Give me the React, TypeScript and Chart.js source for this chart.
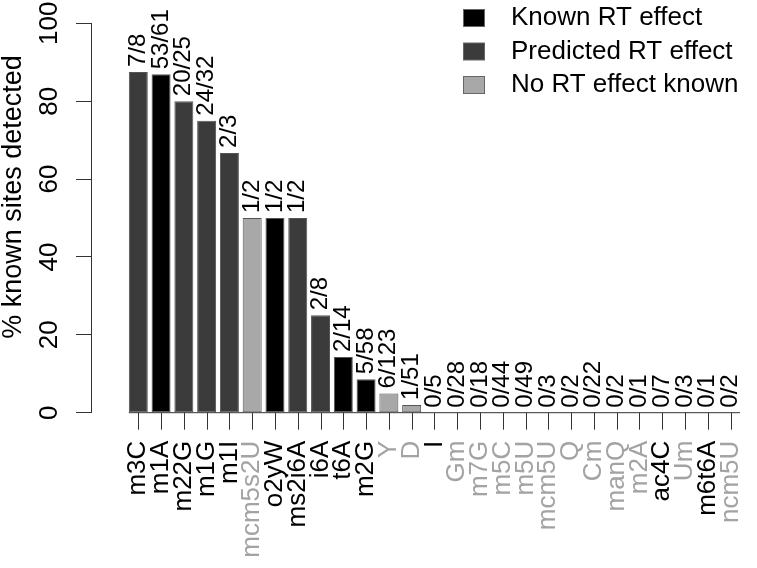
import React, { useEffect, useRef } from 'react';
import { Chart, registerables } from 'chart.js';

Chart.register(...registerables);

// ---------- data ----------
const categories = [
  'm3C', 'm1A', 'm22G', 'm1G', 'm1I', 'mcm5s2U', 'o2yW', 'ms2i6A', 'i6A', 't6A',
  'm2G', 'Y', 'D', 'I', 'Gm', 'm7G', 'm5C', 'm5U', 'mcm5U', 'Q',
  'Cm', 'manQ', 'm2A', 'ac4C', 'Um', 'm6t6A', 'ncm5U',
];
const percentDetected = [
  87.5, 86.9, 80, 75, 66.7, 50, 50, 50, 25, 14.3,
  8.6, 4.9, 2.0, 0, 0, 0, 0, 0, 0, 0,
  0, 0, 0, 0, 0, 0, 0,
];
const siteCounts = [
  '7/8', '53/61', '20/25', '24/32', '2/3', '1/2', '1/2', '1/2', '2/8', '2/14',
  '5/58', '6/123', '1/51', '0/5', '0/28', '0/18', '0/44', '0/49', '0/3', '0/2',
  '0/22', '0/2', '0/1', '0/7', '0/3', '0/1', '0/2',
];
// K = known RT effect, P = predicted RT effect, N = no RT effect known
const effectType = [
  'P', 'K', 'P', 'P', 'P', 'N', 'K', 'P', 'P', 'K',
  'K', 'N', 'N', 'K', 'N', 'N', 'N', 'N', 'N', 'N',
  'N', 'N', 'N', 'K', 'N', 'K', 'N',
];
const legendKeys = ['K', 'P', 'N'];
const legendLabels = ['Known RT effect', 'Predicted RT effect', 'No RT effect known'];
const yTicks = [0, 20, 40, 60, 80, 100];
const yTitle = '% known sites detected';

// ---------- styles ----------
const FONT = '"Liberation Sans", Arial, Helvetica, sans-serif';
const fillColor: Record<string, string> = { K: '#000000', P: '#3b3b3b', N: '#a8a8a8' };
const labelColor: Record<string, string> = { K: '#000000', P: '#000000', N: '#a3a3a3' };
const AXIS = '#333333';

const overlayPlugin = {
  id: 'overlay',
  afterDraw(chart: any) {
    const ctx = chart.ctx as CanvasRenderingContext2D;
    const ys = chart.scales.y;
    const meta = chart.getDatasetMeta(0);
    const els = meta.data;
    ctx.save();

    // base line under the bars
    const y0 = ys.getPixelForValue(0);
    const first = els[0];
    const last = els[els.length - 1];
    ctx.strokeStyle = AXIS;
    ctx.lineWidth = 1;
    ctx.beginPath();
    ctx.moveTo(first.x - first.width / 2, y0);
    ctx.lineTo(last.x + last.width / 2, y0);
    ctx.stroke();

    // x tick marks
    ctx.beginPath();
    for (let i = 0; i < els.length; i++) {
      const x = Math.round(els[i].x) + 0.5;
      ctx.moveTo(x, y0);
      ctx.lineTo(x, y0 + 17);
    }
    ctx.stroke();

    // fraction labels above bars
    ctx.fillStyle = '#000';
    ctx.font = `24px ${FONT}`;
    ctx.textAlign = 'left';
    ctx.textBaseline = 'middle';
    els.forEach((el: any, i: number) => {
      ctx.save();
      ctx.translate(el.x, el.y - 5);
      ctx.rotate(-Math.PI / 2);
      ctx.fillText(siteCounts[i], 0, 0);
      ctx.restore();
    });

    // y tick labels (parallel to axis)
    ctx.font = `26px ${FONT}`;
    ctx.textAlign = 'center';
    yTicks.forEach((v) => {
      ctx.save();
      ctx.translate(50, ys.getPixelForValue(v));
      ctx.rotate(-Math.PI / 2);
      ctx.fillText(String(v), 0, 0);
      ctx.restore();
    });

    // y title
    ctx.font = `27px ${FONT}`;
    ctx.save();
    ctx.translate(14, 197);
    ctx.rotate(-Math.PI / 2);
    ctx.fillText(yTitle, 0, 0);
    ctx.restore();

    // legend
    ctx.font = `26px ${FONT}`;
    ctx.textAlign = 'left';
    ctx.lineWidth = 1;
    legendKeys.forEach((k, i) => {
      const cy = 18 + i * 33.5;
      ctx.fillStyle = fillColor[k];
      ctx.fillRect(463.5, cy - 8.5, 21, 17);
      ctx.strokeStyle = '#666';
      ctx.strokeRect(463.5, cy - 8.5, 21, 17);
      ctx.fillStyle = '#000';
      ctx.fillText(legendLabels[i], 511, cy);
    });

    ctx.restore();
  },
};

export default function App() {
  const canvasRef = useRef<HTMLCanvasElement | null>(null);

  useEffect(() => {
    const canvas = canvasRef.current;
    if (!canvas) return;
    const chart = new Chart(canvas, {
      type: 'bar',
      data: {
        datasets: [
          {
            data: percentDetected.map((v, i) => ({ x: i, y: v })),
            backgroundColor: effectType.map((t) => fillColor[t]),
            borderColor: '#555555',
            borderWidth: 1,
            borderSkipped: false,
            barPercentage: 0.833,
            categoryPercentage: 1,
          } as any,
        ],
      },
      options: {
        responsive: false,
        animation: false,
        devicePixelRatio: 1,
        layout: { padding: { left: 0, right: 0, top: 23.3, bottom: 0 } },
        plugins: {
          legend: { display: false },
          tooltip: { enabled: false },
        },
        scales: {
          x: {
            type: 'linear',
            min: -1.535,
            max: 26.62,
            afterBuildTicks: (scale: any) => {
              scale.ticks = categories.map((_, i) => ({ value: i }));
            },
            afterFit: (scale: any) => {
              scale.height = 155.3;
              scale.paddingLeft = 0;
              scale.paddingRight = 0;
            },
            border: { display: false },
            grid: {
              display: true,
              drawOnChartArea: false,
              drawTicks: true,
              tickLength: 17,
              tickColor: 'rgba(0,0,0,0)',
              color: 'rgba(0,0,0,0)',
            },
            ticks: {
              autoSkip: false,
              minRotation: 90,
              maxRotation: 90,
              padding: 11,
              font: { family: FONT, size: 26 },
              color: (c: any) => labelColor[effectType[c.index]] ?? '#000',
              callback: (value: any) => categories[Math.round(Number(value))] ?? '',
            },
          },
          y: {
            min: 0,
            max: 100,
            afterFit: (scale: any) => {
              scale.width = 91;
            },
            border: { display: true, color: AXIS, width: 1 },
            grid: {
              drawOnChartArea: false,
              drawTicks: true,
              tickLength: 15,
              tickColor: AXIS,
            },
            ticks: { display: false, stepSize: 20 },
          },
        },
      } as any,
      plugins: [overlayPlugin],
    });
    return () => chart.destroy();
  }, []);

  return (
    <div style={{ position: 'absolute', left: 0, top: 0, width: 757, height: 568, background: '#fff' }}>
      <canvas ref={canvasRef} width={757} height={568} style={{ width: 757, height: 568 }} />
    </div>
  );
}
